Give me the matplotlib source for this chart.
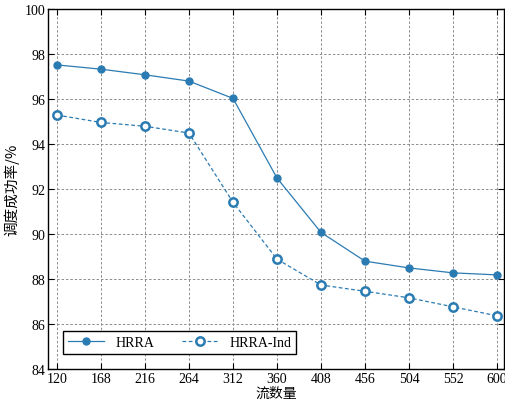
import matplotlib
matplotlib.use('Agg')
import matplotlib.pyplot as plt

plt.rcParams['font.family'] = ['Liberation Serif', 'Noto Sans CJK SC']
plt.rcParams['mathtext.fontset'] = 'stix'

flows = [120, 168, 216, 264, 312, 360, 408, 456, 504, 552, 600]
hrra = [97.52, 97.33, 97.08, 96.80, 96.03, 92.49, 90.07, 88.79, 88.49, 88.27, 88.18]
hrra_ind = [95.29, 94.96, 94.79, 94.49, 91.41, 88.88, 87.73, 87.45, 87.16, 86.76, 86.36]
xticks = [120, 168, 216, 264, 312, 360, 408, 456, 504, 552, 600]
yticks = [84, 86, 88, 90, 92, 94, 96, 98, 100]

color = '#2b7bb3'

fig = plt.figure(figsize=(5.05, 4.06), dpi=100)
ax = fig.add_axes([0.095, 0.089, 0.903, 0.886])

ax.plot(flows, hrra, '-', color=color, lw=0.9, marker='o', ms=5, label='HRRA')
ax.plot(flows, hrra_ind, '--', color=color, lw=0.9, marker='o', ms=6,
        mfc='white', mec=color, mew=1.8, label='HRRA-Ind', dashes=(3, 2))

ax.set_xlim(110.2, 607.6)
ax.set_ylim(84, 100)
ax.set_xticks(xticks)
ax.set_yticks(yticks)
ax.tick_params(direction='in', top=True, right=True, labelsize=10, length=4, pad=2)
ax.grid(True, ls=(0, (2.5, 2)), color='#8c8c8c', lw=0.7)
for s in ax.spines.values():
    s.set_linewidth(1.0)

ax.set_xlabel('流数量', fontsize=10, family=['Noto Sans CJK SC'], labelpad=1)
ax.set_ylabel('调度成功率/%', fontsize=10.5, family=['Noto Sans CJK SC', 'Liberation Serif'], labelpad=4)

leg = ax.legend(loc='lower left', ncol=2, fontsize=10, frameon=True, fancybox=False,
                edgecolor='black', framealpha=1, borderaxespad=1.1, columnspacing=2.0,
                handlelength=2.6, handletextpad=0.8, borderpad=0.35)
leg.get_frame().set_linewidth(1.0)

fig.savefig('out.png', dpi=100)
